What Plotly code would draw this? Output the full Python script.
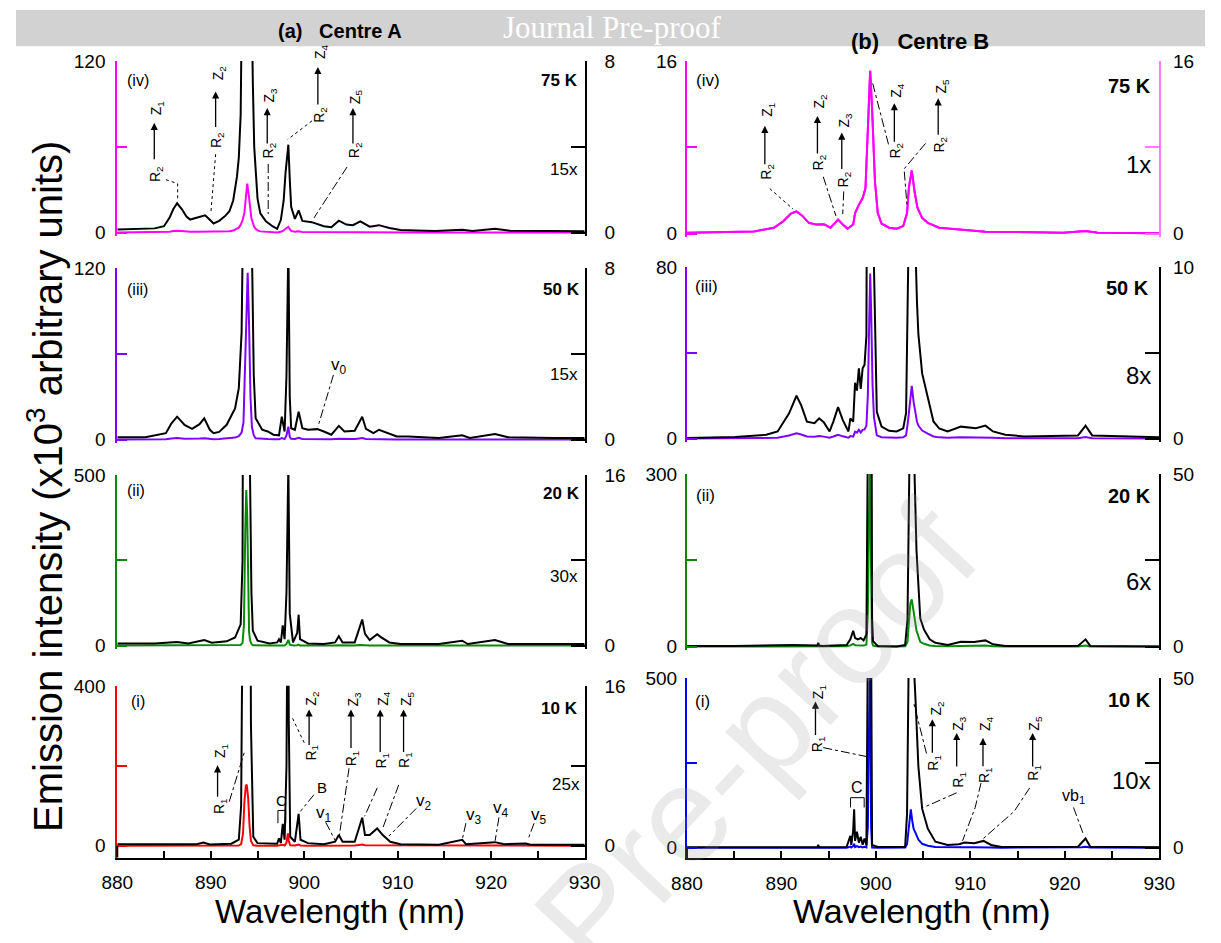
import plotly.graph_objects as go

W, H = 1221, 943
SANS = "Liberation Sans, Arial, sans-serif"
SERIF = "Liberation Serif, Times New Roman, serif"

# ---------------- data (emission intensity, x10^3 arbitrary units) ----------------
# Centre A
wl_A75 = [880, 882, 884, 885, 885.6, 886.0, 886.4, 886.9, 887.4, 887.8, 888.6, 889.4, 889.9, 890.3,
          890.9, 891.5, 892.0, 892.4, 892.8, 893.0, 893.2, 893.4, 893.6, 893.75, 893.9, 894.05, 894.2,
          894.35, 894.5, 894.65, 894.8, 895.0, 895.3, 895.9, 896.6, 897.1, 897.5, 897.8, 898.0, 898.15,
          898.3, 898.45, 898.6, 899.0, 899.4, 899.8, 900.8, 902.1, 902.9, 903.7, 904.5, 905.2, 906.0,
          907.0, 908.0, 909.1, 910.3, 912, 914, 916.9, 918, 920.4, 922, 926, 930]
I_A75 = [0.15, 0.16, 0.2, 0.3, 0.7, 1.1, 1.37, 1.1, 0.75, 0.61, 0.7, 0.81, 0.6, 0.43,
         0.55, 0.76, 1.0, 1.5, 2.6, 3.5, 5.5, 8.5, 14, 25, 34.3, 27, 16,
         10, 7, 4, 2.7, 1.6, 0.9, 0.53, 0.3, 0.18, 0.6, 1.5, 2.8, 3.6,
         4.1, 2.5, 1.2, 0.64, 1.04, 0.55, 0.49, 0.3, 0.25, 0.56, 0.38, 0.35, 0.53,
         0.28, 0.35, 0.22, 0.12, 0.1, 0.08, 0.14, 0.08, 0.18, 0.09, 0.08, 0.07]

wl_A50 = [880, 883, 885.2, 885.8, 886.4, 887.2, 888.0, 888.8, 889.3, 889.9, 890.3, 890.9, 891.7, 892.6,
          893.0, 893.3, 893.5, 893.7, 893.85, 893.95, 894.1, 894.25, 894.4, 894.6, 894.8, 895.5, 896.1,
          896.7, 897.3, 897.6, 897.9, 898.1, 898.3, 898.45, 898.6, 899.0, 899.4, 899.8, 900.4, 901.4,
          902.1, 902.9, 903.7, 904.3, 905.4, 905.9, 906.2, 906.6, 907.4, 908.0, 908.9, 909.9, 911.1,
          914.4, 916.9, 917.7, 920.4, 921.8, 926.8, 930]
I_A50 = [0.11, 0.11, 0.3, 0.76, 1.07, 0.69, 0.5, 0.72, 0.99, 0.46, 0.3, 0.36, 0.69, 1.45,
         2.4, 5, 12, 60, 110, 116.6, 80, 30, 9, 3, 1.0, 0.46, 0.38,
         0.23, 0.2, 1.07, 0.38, 3, 9.1, 2, 0.53, 0.46, 1.3, 0.53, 0.46, 0.49,
         0.38, 0.23, 0.64, 0.38, 0.41, 0.8, 1.07, 0.5, 0.3, 0.46, 0.3, 0.15, 0.15,
         0.08, 0.2, 0.08, 0.26, 0.11, 0.08, 0.08]

wl_A20 = [880, 884, 886.4, 887.6, 889.3, 890.1, 891.7, 892.6, 893.2, 893.4, 893.55, 893.7, 893.8, 893.9,
          894.0, 894.1, 894.2, 894.35, 894.5, 895.0, 896.3, 897.1, 897.3, 897.5, 897.7, 897.9, 898.1,
          898.3, 898.45, 898.8, 899.25, 899.4, 899.55, 900.4, 902.1, 903.3, 903.7, 904.1, 905.4, 905.9,
          906.2, 906.5, 907.0, 907.8, 908.2, 909.1, 910.3, 914.4, 916.9, 917.5, 920.4, 921.8, 930]
I_A20 = [0.21, 0.21, 0.34, 0.21, 0.52, 0.27, 0.4, 0.76, 2.0, 8, 60, 350, 456, 380,
         150, 40, 16, 5, 1.4, 0.46, 0.21, 0.3, 0.6, 0.3, 1.9, 0.6, 5,
         17, 3, 0.3, 1.2, 2.9, 0.6, 0.21, 0.15, 0.3, 0.89, 0.3, 0.3, 1.7,
         2.45, 1.1, 0.52, 1.07, 0.8, 0.3, 0.15, 0.15, 0.46, 0.15, 0.52, 0.15, 0.15]

wl_A10 = [880, 885, 888.5, 889.2, 889.9, 892.2, 893.0, 893.25, 893.45, 893.6, 893.75, 893.85, 894.0,
          894.15, 894.3, 894.55, 895.0, 897.1, 897.3, 897.5, 897.7, 897.9, 898.1, 898.25, 898.35, 898.5,
          899.0, 899.4, 899.6, 900.4, 902.1, 903.3, 903.7, 904.1, 905.4, 905.9, 906.2, 906.5, 907.0,
          907.8, 908.4, 909.2, 910.3, 914.4, 916.9, 917.3, 920.4, 921.4, 923.7, 924.2, 930]
I_A10 = [0.16, 0.16, 0.16, 0.33, 0.13, 0.2, 0.6, 4, 30, 110, 150, 153, 120,
         50, 12, 0.9, 0.26, 0.2, 0.75, 0.26, 2.2, 0.6, 8, 31, 12, 0.9,
         0.4, 3.2, 0.6, 0.26, 0.16, 0.4, 1.08, 0.4, 0.4, 1.9, 2.8, 1.07, 1.07,
         1.73, 1.07, 0.4, 0.16, 0.1, 0.59, 0.16, 0.36, 0.16, 0.23, 0.1, 0.1]

# Centre B
wl_B75 = [880, 885, 887.1, 889.2, 890.2, 891.0, 891.6, 892.2, 892.9, 893.7, 894.5, 895.2, 896.0, 896.5,
          897.0, 897.6, 897.8, 898.2, 898.6, 898.9, 899.1, 899.4, 899.6, 899.9, 900.2, 900.6, 901.4,
          902.2, 902.9, 903.3, 903.5, 903.8, 904.1, 904.4, 904.9, 905.5, 906.7, 909.2, 911.6, 919.8,
          922.2, 923.5, 930]
I_B75 = [0.09, 0.12, 0.2, 0.55, 1.15, 1.85, 2.06, 1.67, 1.0, 0.85, 0.88, 0.55, 1.3, 0.85,
         0.45, 0.85, 1.9, 2.67, 3.3, 4.2, 8.6, 15.1, 11.6, 4.9, 1.9, 0.94, 0.55,
         0.45, 0.7, 1.9, 4.3, 5.85, 3.9, 2.4, 1.45, 1.0, 0.55, 0.33, 0.18, 0.09,
         0.24, 0.09, 0.03]

wl_B50 = [880, 885.1, 888.4, 889.6, 890.8, 891.6, 892.1, 892.7, 893.5, 894.0, 894.5, 895.1, 895.5,
          896.0, 896.5, 897.1, 897.3, 897.6, 897.8, 898.0, 898.2, 898.4, 898.6, 898.8, 899.0, 899.15,
          899.3, 899.4, 899.5, 899.65, 899.8, 900.1, 900.6, 901.4, 902.2, 902.9, 903.2, 903.4, 903.55,
          903.8, 904.0, 904.2, 904.35, 904.5, 904.9, 905.5, 906.1, 906.7, 907.6, 909.0, 910.0, 910.6,
          911.6, 912.4, 913.7, 915.7, 921.4, 922.2, 922.9, 930]
I_B50 = [0.04, 0.09, 0.23, 0.42, 1.46, 2.5, 1.94, 0.99, 0.9, 1.18, 0.95, 0.42, 0.99,
         1.84, 1.08, 0.42, 1.18, 0.99, 3.26, 2.8, 4.1, 2.9, 4.1, 4.3, 6, 20,
         55, 77, 60, 25, 10, 1.56, 0.7, 0.46, 0.42, 0.6, 1.5, 8, 15,
         24.6, 17, 11, 8, 6.1, 3.8, 2.3, 1.0, 0.6, 0.42, 0.7, 0.65, 0.61,
         0.76, 0.42, 0.23, 0.13, 0.19, 0.76, 0.19, 0.08]

wl_B20 = [880, 885, 891.2, 893.8, 893.9, 894.0, 894.3, 896.9, 897.3, 897.6, 897.8, 898.1, 898.4, 898.7,
          899.0, 899.15, 899.3, 899.4, 899.5, 899.6, 899.7, 900.2, 902.2, 903.1, 903.35, 903.5, 903.65,
          903.8, 903.95, 904.1, 904.3, 904.7, 905.1, 905.7, 906.3, 907.6, 909.0, 910.4, 911.6, 912.4,
          913.7, 921.4, 922.2, 922.7, 930]
I_B20 = [0.2, 0.2, 0.47, 0.3, 1.1, 0.3, 0.2, 0.47, 2.1, 4.6, 2.5, 2.1, 2.5, 1.8,
         3.5, 60, 250, 330, 120, 8, 1.6, 0.2, 0.05, 0.47, 8, 50, 75,
         82, 65, 50, 28, 8.2, 4.9, 2.1, 1.1, 0.47, 1.4, 1.33, 1.8, 0.66,
         0.2, 0.2, 2.1, 0.2, 0.05]

wl_B10 = [880, 885, 893.8, 893.9, 894.0, 896.9, 897.3, 897.4, 897.6, 897.7, 897.8, 898.0, 898.2, 898.4,
          898.6, 898.8, 899.0, 899.15, 899.3, 899.4, 899.5, 899.6, 900.2, 903.1, 903.3, 903.45, 903.6,
          903.7, 903.85, 904.0, 904.2, 904.5, 904.9, 905.5, 906.3, 907.6, 908.8, 909.4, 910.4, 911.4,
          912.2, 913.3, 921.4, 921.8, 922.2, 922.7, 930]
I_B10 = [0.1, 0.1, 0.1, 0.8, 0.1, 0.2, 3.5, 0.8, 5, 11.3, 2, 4.7, 1.5, 3.2,
         0.9, 2.7, 0.8, 60, 400, 620, 60, 0.78, 0.2, 0.3, 10, 50, 100,
         112.6, 80, 55, 43.5, 24, 11.5, 5.6, 1.75, 0.8, 1.0, 1.55, 1.33, 2.0,
         0.8, 0.2, 0.3, 1.5, 2.7, 0.3, 0.1]

temperatures = ["75 K", "50 K", "20 K", "10 K"]
panel_ids = ["(iv)", "(iii)", "(ii)", "(i)"]
factors_A = ["15x", "15x", "30x", "25x"]
factors_B = ["1x", "8x", "6x", "10x"]
left_max_A = [120, 120, 500, 400]
right_max_A = [8, 8, 16, 16]
left_max_B = [16, 80, 300, 500]
right_max_B = [16, 10, 50, 50]
colors_A = ["#ff00ff", "#8000ff", "#0a8a0a", "#ff0000"]
colors_B = ["#ff00ff", "#8000ff", "#0a8a0a", "#0000ff"]
x_tickvals = [880, 885, 890, 895, 900, 905, 910, 915, 920, 925, 930]
x_ticktext = ["880", "", "890", "", "900", "", "910", "", "920", "", "930"]

spectra_A = [(wl_A75, I_A75), (wl_A50, I_A50), (wl_A20, I_A20), (wl_A10, I_A10)]
spectra_B = [(wl_B75, I_B75), (wl_B50, I_B50), (wl_B20, I_B20), (wl_B10, I_B10)]

# ---------------- geometry (pixels) ----------------
COLX = [(104, 584), (689, 1174)]
ROWY = [[(52, 227, 230), (263, 438, 441), (474, 648, 651), (689, 852, 864)],
        [(52, 228, 231), (262, 437, 440), (473, 649, 652), (681, 854, 865)]]


def fx(x):
    return x / W


def fy(y):
    return 1 - y / H


fig = go.Figure()
layout = {}
annotations = []
shapes = []


def ax_name(kind, n):
    return kind if n == 1 else f"{kind}{n}"


for col in range(2):
    spectra = spectra_A if col == 0 else spectra_B
    lmaxs = left_max_A if col == 0 else left_max_B
    rmaxs = right_max_A if col == 0 else right_max_B
    cols = colors_A if col == 0 else colors_B
    for row in range(4):
        p = row * 2 + col
        xn = p + 1
        yb, yo = 2 * p + 1, 2 * p + 2
        x0, x1 = COLX[col]
        top, zero, bot = ROWY[col][row]
        lmax, rmax = lmaxs[row], rmaxs[row]
        color = cols[row]
        rcolor = "#ff77ff" if (col == 1 and row == 0) else "black"
        blk = color if (col == 1 and row == 0) else "black"
        frac = (bot - zero) / (zero - top)
        wl, inten = spectra[row]

        fig.add_trace(go.Scatter(x=wl, y=inten, mode="lines", line=dict(color=color, width=2),
                                 xaxis=ax_name("x", xn), yaxis=ax_name("y", yb), showlegend=False,
                                 hoverinfo="skip"))
        fig.add_trace(go.Scatter(x=wl, y=inten, mode="lines", line=dict(color=blk, width=2),
                                 xaxis=ax_name("x", xn), yaxis=ax_name("y", yo), showlegend=False,
                                 hoverinfo="skip"))

        layout[ax_name("xaxis", xn)] = dict(
            domain=[fx(x0), fx(x1)], range=[880, 930], anchor=ax_name("y", yb),
            visible=(row == 3), showline=True, linecolor="black", linewidth=2,
            ticks="inside", ticklen=7, tickwidth=2, tickcolor="black",
            tickvals=x_tickvals, ticktext=x_ticktext, showgrid=False, zeroline=False,
            tickfont=dict(size=19, family=SANS, color="black"), ticklabelstandoff=7)
        layout[ax_name("yaxis", yb)] = dict(
            domain=[fy(bot), fy(top)], range=[-lmax * frac, lmax], anchor=ax_name("x", xn),
            side="left", showline=True, linecolor=color, linewidth=2, ticks="inside",
            ticklen=10, tickwidth=2, tickcolor=color, tickvals=[0, lmax / 2, lmax],
            ticktext=["0", "", str(lmax)], showgrid=False, zeroline=False,
            tickfont=dict(size=19, family=SANS, color="black"),
            ticklabelstandoff=(6 if col == 0 else 4))
        layout[ax_name("yaxis", yo)] = dict(
            overlaying=ax_name("y", yb), range=[-rmax * frac, rmax], anchor=ax_name("x", xn),
            side="right", showline=True, linecolor=rcolor, linewidth=2, ticks="inside",
            ticklen=14, tickwidth=2, tickcolor=rcolor, tickvals=[0, rmax / 2, rmax],
            ticktext=["0", "", str(rmax)], showgrid=False, zeroline=False,
            tickfont=dict(size=19, family=SANS, color="black"),
            ticklabelstandoff=(14 if col == 0 else 8))
        if row == 3:
            shapes.append(dict(type="line", xref="paper", yref="paper", x0=fx(x0), x1=fx(x0),
                               y0=fy(zero), y1=fy(bot), line=dict(color="black", width=2)))


def T(x, y, text, size=14, angle=0, family=SANS, color="black", xanchor="center", yanchor="middle"):
    annotations.append(dict(x=fx(x), y=fy(y), xref="paper", yref="paper", text=text,
                            showarrow=False, textangle=angle, xanchor=xanchor, yanchor=yanchor,
                            font=dict(size=size, family=family, color=color)))


def ARROW(x, y_tail, y_head):
    annotations.append(dict(x=fx(x), y=fy(y_head), xref="paper", yref="paper", ax=0,
                            ay=y_tail - y_head, text="", showarrow=True, arrowhead=2,
                            arrowsize=1.1, arrowwidth=1.3, arrowcolor="black"))


def LEADER(pts, dash="dot"):
    path = "M " + " L ".join(f"{fx(a):.5f} {fy(b):.5f}" for a, b in pts)
    shapes.append(dict(type="path", xref="paper", yref="paper", path=path,
                       line=dict(color="black", width=1, dash=dash)))


def TRANS(lbl_r, lbl_z, x, yr, ytail, yhead, yz, xz=None):
    T(x + 2, yr, lbl_r, size=14, angle=-90)
    ARROW(x, ytail, yhead)
    T((xz if xz is not None else x + 3), yz, lbl_z, size=14, angle=-90)


R1, R2 = "R<sub>1</sub>", "R<sub>2</sub>"
Z = ["", "Z<sub>1</sub>", "Z<sub>2</sub>", "Z<sub>3</sub>", "Z<sub>4</sub>", "Z<sub>5</sub>"]

# header band
shapes.append(dict(type="rect", xref="paper", yref="paper", x0=0, x1=1, y0=fy(37), y1=1,
                   fillcolor="#d2d2d2", line=dict(width=0), layer="below"))
T(612, 18, "Journal Pre-proof", size=31, family=SERIF, color="white")
T(333, 21, "<b>(a)\u00a0\u00a0\u00a0Centre A</b>", size=20, family=SANS)
T(928, 32, "<b>(b)\u00a0\u00a0\u00a0Centre B</b>", size=22, family=SANS)

# panel labels
rows_lab_A = [(125, 72), (125, 285), (123, 490), (125, 705)]
rows_lab_B = [(711, 72), (709, 282), (708, 495), (705, 705)]
temp_A = [(579, 72), (581, 285), (581, 493), (579, 712)]
temp_B = [(1168, 77), (1166, 283), (1168, 495), (1168, 703)]
fac_A = [(579, 163), (579, 372), (579, 578), (581, 790)]
fac_B = [(1168, 157), (1168, 373), (1168, 583), (1168, 785)]
for r in range(4):
    T(*rows_lab_A[r], panel_ids[r], size=16)
    T(*rows_lab_B[r], panel_ids[r], size=17)
    T(*temp_A[r], f"<b>{temperatures[r]}</b>", size=17, family=SANS, xanchor="right")
    T(*temp_B[r], f"<b>{temperatures[r]}</b>", size=20, family=SANS, xanchor="right")
    T(*fac_A[r], factors_A[r], size=17, family=SANS, xanchor="right")
    T(*fac_B[r], factors_B[r], size=24, family=SANS, xanchor="right")

# ---- (a) iv ----
TRANS(R2, Z[1], 142, 167, 153, 115, 100)
LEADER([(154, 173), (166, 177), (166, 192)])
TRANS(R2, Z[2], 205, 133, 120, 83, 65)
LEADER([(205, 147), (200, 208)])
TRANS(R2, Z[3], 258, 143, 137, 100, 87)
LEADER([(259, 157), (259, 208)], dash="dashdot")
TRANS(R2, Z[4], 310, 107, 97, 58, 42)
LEADER([(304, 113), (279, 132)])
TRANS(R2, Z[5], 346, 143, 137, 100, 88)
LEADER([(340, 160), (306, 212)], dash="dashdot")
# ---- (a) iii ----
T(332, 363, "v<sub>0</sub>", size=17)
LEADER([(326, 372), (310, 425)], dash="dashdot")
# ---- (a) i ----
TRANS(R1, Z[1], 207, 812, 803, 770, 755)
LEADER([(219, 807), (235, 755)], dash="dashdot")
TRANS(R1, Z[2], 301, 757, 750, 713, 702)
LEADER([(296, 747), (283, 720)])
TRANS(R1, Z[3], 344, 763, 753, 713, 702)
LEADER([(342, 773), (332, 842)], dash="dashdot")
TRANS(R1, Z[4], 374, 765, 757, 713, 702)
LEADER([(371, 793), (358, 822)], dash="dashdot")
TRANS(R1, Z[5], 398, 765, 757, 713, 702)
LEADER([(393, 790), (377, 833)], dash="dashdot")
T(273, 806, "C", size=15)
shapes.append(dict(type="path", xref="paper", yref="paper",
                   path=f"M {fx(269)} {fy(829)} L {fx(269)} {fy(816)} L {fx(277)} {fy(816)} L {fx(277)} {fy(829)}",
                   line=dict(color="black", width=1)))
T(314, 793, "B", size=15)
LEADER([(306, 800), (292, 817)], dash="dashdot")
T(316, 820, "v<sub>1</sub>", size=17)
LEADER([(318, 828), (328, 847)], dash="dashdot")
T(419, 807, "v<sub>2</sub>", size=17)
LEADER([(411, 814), (383, 842)], dash="dashdot")
T(470, 822, "v<sub>3</sub>", size=17)
LEADER([(462, 829), (458, 847)], dash="dashdot")
T(498, 815, "v<sub>4</sub>", size=17)
LEADER([(496, 823), (492, 847)], dash="dashdot")
T(537, 822, "v<sub>5</sub>", size=17)
LEADER([(532, 829), (526, 845)], dash="dashdot")
# ---- (b) iv ----
TRANS(R2, Z[1], 769, 165, 158, 118, 102)
LEADER([(774, 182), (798, 203)])
TRANS(R2, Z[2], 823, 155, 147, 108, 93)
LEADER([(829, 170), (842, 210)], dash="dashdot")
TRANS(R2, Z[3], 848, 173, 163, 125, 112)
LEADER([(850, 185), (849, 208)], dash="dashdot")
TRANS(R2, Z[4], 902, 143, 135, 95, 82)
LEADER([(896, 137), (879, 72)], dash="dashdot")
TRANS(R2, Z[5], 947, 137, 128, 90, 78)
LEADER([(934, 136), (912, 162), (915, 200)], dash="dashdot")
# ---- (b) i ----
TRANS(R1, Z[1], 821, 748, 740, 705, 695)
LEADER([(829, 752), (873, 761)], dash="dashdot")
TRANS(R1, Z[2], 941, 767, 758, 723, 712, xz=946)
LEADER([(935, 758), (922, 707)], dash="dashdot")
TRANS(R1, Z[3], 966, 785, 772, 737, 727)
LEADER([(966, 798), (932, 813)], dash="dashdot")
TRANS(R1, Z[4], 993, 780, 772, 742, 727)
LEADER([(991, 788), (985, 813), (972, 847)], dash="dashdot")
TRANS(R1, Z[5], 1044, 778, 772, 737, 727)
LEADER([(1041, 793), (1025, 817), (993, 845)], dash="dashdot")
T(864, 793, "C", size=16)
shapes.append(dict(type="path", xref="paper", yref="paper",
                   path=f"M {fx(857)} {fy(813)} L {fx(857)} {fy(803)} L {fx(871)} {fy(803)} L {fx(871)} {fy(813)}",
                   line=dict(color="black", width=1)))
T(1086, 802, "vb<sub>1</sub>", size=16)
LEADER([(1086, 813), (1096, 840)], dash="dashdot")

# axis titles
T(30, 486, "Emission intensity (x10<sup>3</sup> arbitrary units)", size=40, angle=-90)
T(333, 919, "Wavelength (nm)", size=33, family=SANS)
T(930, 919, "Wavelength (nm)", size=34, family=SANS)

# watermark
T(760, 740, "Pre-proof", size=137, angle=-47, color="rgba(150,150,150,0.2)")

layout.update(dict(width=W, height=H, margin=dict(l=0, r=0, t=0, b=0),
                   paper_bgcolor="white", plot_bgcolor="rgba(0,0,0,0)",
                   font=dict(family=SANS, color="black"),
                   annotations=annotations, shapes=shapes, showlegend=False))
fig.update_layout(**layout)
fig.write_html("out.html", config={"displayModeBar": False},
               post_script="document.body.style.margin='0';")
